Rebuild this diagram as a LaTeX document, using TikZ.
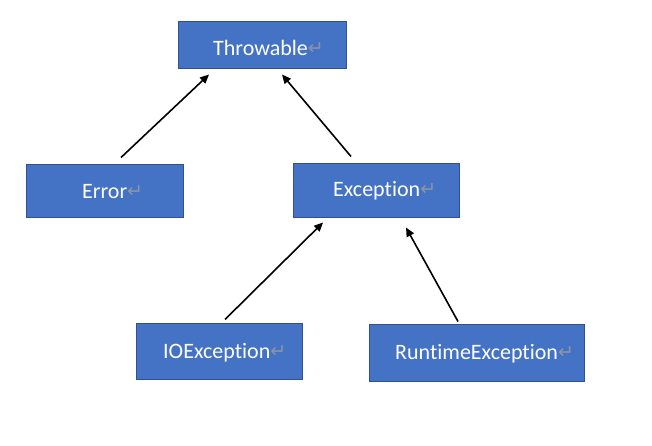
\documentclass[tikz,border=0pt]{standalone}
\usepackage{fontspec}
\setmainfont{Carlito}[Ligatures=NoCommon]
\newfontfamily\symfont{DejaVu Sans}
\usetikzlibrary{arrows.meta}
\definecolor{boxfill}{RGB}{68,114,196}
\definecolor{boxedge}{RGB}{47,82,143}
\definecolor{markgray}{RGB}{140,148,168}
\newcommand{\retmark}{{\symfont\fontsize{19pt}{19pt}\selectfont\color{markgray}\raisebox{1pt}{↵}}}
\tikzset{
  classbox/.style={draw=boxedge, line width=1pt, fill=boxfill, inner sep=0pt},
  classlabel/.style={anchor=west, inner sep=0pt, text=white, font=\fontsize{22pt}{24pt}\selectfont},
  inherit/.style={line width=1.6pt, -{Triangle[length=9pt,width=8pt]}}
}
\begin{document}
\begin{tikzpicture}[x=1pt,y=1pt]
\useasboundingbox (0,0) rectangle (652,446);
% class boxes
\node[classbox, minimum width=168pt, minimum height=47pt] (thr) at (262,400.5) {};
\node[classbox, minimum width=157pt, minimum height=53pt] (err) at (104.5,254.5) {};
\node[classbox, minimum width=166pt, minimum height=54pt] (exc) at (376,255) {};
\node[classbox, minimum width=166pt, minimum height=56pt] (ioe) at (219,94) {};
\node[classbox, minimum width=215pt, minimum height=57pt] (rte) at (476.5,92.5) {};
% class names
\node[classlabel] (thrL) at (213,398.5) {Throwable\retmark};
\node[classlabel] (errL) at (82,254.5) {Error\retmark};
\node[classlabel] (excL) at (333,255.5) {Exception\retmark};
\node[classlabel] (ioeL) at (163,93) {IOException\retmark};
\node[classlabel] (rteL) at (395,92) {RuntimeException\retmark};
% arrow end points
\coordinate (a1s) at ([xshift=16.5pt,yshift=7pt]err.north);
\coordinate (a1e) at ([xshift=-53pt,yshift=-5pt]thr.south);
\coordinate (a2s) at ([xshift=-25pt,yshift=7pt]exc.north);
\coordinate (a2e) at ([xshift=20pt,yshift=-5pt]thr.south);
\coordinate (a3s) at ([xshift=6pt,yshift=4pt]ioe.north);
\coordinate (a3e) at ([xshift=-53pt,yshift=-4pt]exc.south);
\coordinate (a4s) at ([xshift=-18.5pt,yshift=3pt]rte.north);
\coordinate (a4e) at ([xshift=30pt,yshift=-9pt]exc.south);
% inheritance arrows
\draw[inherit] (a1s) -- (a1e);
\draw[inherit] (a2s) -- (a2e);
\draw[inherit] (a3s) -- (a3e);
\draw[inherit] (a4s) -- (a4e);
\end{tikzpicture}
\end{document}
